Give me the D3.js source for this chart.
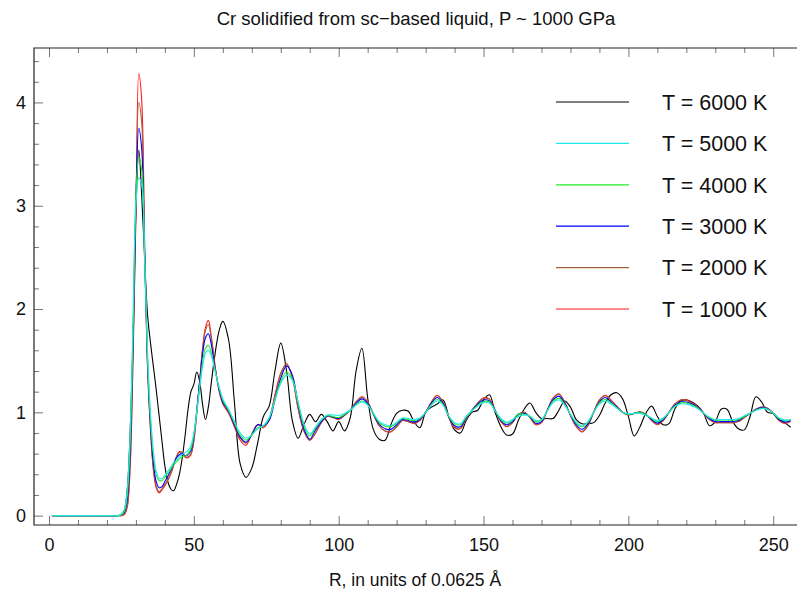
<!DOCTYPE html>
<html><head><meta charset="utf-8">
<script src="https://cdn.jsdelivr.net/npm/d3@7"></script>
<style>
body{margin:0;background:#fff}
svg{display:block}
text{font-family:"Liberation Sans",Arial,Helvetica,sans-serif;fill:#111}
</style>
</head><body><div id="chart"></div>
<script>
// R grid (units of 0.0625 Å)
const R = [1,10,20,
24,25,26,27,28,29,30,31,32,33,34,35,36,37,38,39,40,41,42,43,44,45,46,47,48,49,50,51,52,53,54,55,56,57,58,59,60,
62,64,66,68,70,72,74,76,78,80,82,84,86,88,90,92,94,96,98,100,102,104,106,108,110,112,114,116,118,120,
122,124,126,128,130,132,134,136,138,140,142,144,146,148,150,152,154,156,158,160,162,164,166,168,170,172,174,176,178,180,
182,184,186,188,190,192,194,196,198,200,202,204,206,208,210,212,214,216,218,220,222,224,226,228,230,232,234,236,238,240,
242,244,246,248,250,252,254,256];

const g6000 = [0,0,0,
0,0.01,0.05,0.25,0.8,1.65,2.95,3.54,3.1,2.5,1.95,1.68,1.45,1.22,0.97,0.72,0.48,0.33,0.26,0.24,0.30,0.40,0.56,0.78,1.03,1.2,1.27,1.39,1.30,1.08,0.93,1.05,1.28,1.50,1.69,1.82,1.88,
1.70,1.10,0.50,0.37,0.46,0.70,0.96,1.06,1.40,1.67,
1.40,0.92,0.75,0.88,0.98,0.91,0.98,0.91,0.82,0.91,
0.82,0.95,1.40,1.62,1.14,0.83,0.74,0.73,0.88,0.99,
1.02,1.01,0.91,0.85,1.00,1.05,1.08,1.12,0.96,0.83,
0.80,0.92,1.00,1.02,1.12,1.17,1.00,0.86,0.78,0.79,
0.92,1.03,1.09,1.00,0.94,0.94,0.94,1.02,1.11,1.05,
0.93,0.89,0.89,0.90,0.97,1.09,1.17,1.19,1.13,0.96,
0.77,0.86,0.99,1.06,0.96,0.88,0.89,1.03,1.11,1.12,
1.10,1.06,0.99,0.87,0.91,1.03,1.03,0.91,0.84,0.83,
0.96,1.15,1.10,1.00,0.99,0.94,0.90,0.855];

const g5000 = [0,0,0,
0,0.02,0.06,0.25,0.8,1.9,3.0,3.27,3.2,2.5,1.6,1.0,0.63,0.43,0.36,0.36,0.39,0.43,0.47,0.51,0.54,0.57,0.59,0.61,0.63,0.68,0.80,1.0,1.23,1.44,1.57,1.60,1.55,1.44,1.32,1.22,1.13,
1.03,0.91,0.80,0.75,0.78,0.84,0.87,0.95,1.12,1.28,
1.36,1.31,1.10,0.89,0.79,0.86,0.93,0.975,0.975,0.97,
0.99,1.02,1.07,1.10,1.07,0.99,0.91,0.88,0.87,0.905,
0.945,0.94,0.93,0.945,1.00,1.07,1.11,1.07,0.966,0.90,
0.89,0.96,1.015,1.06,1.095,1.09,1.015,0.94,0.905,0.93,
0.96,0.975,0.965,0.92,0.93,1.015,1.095,1.12,1.07,0.98,
0.905,0.87,0.91,1.00,1.08,1.11,1.08,1.04,1.00,0.985,
0.99,0.99,0.97,0.945,0.92,0.945,1.00,1.055,1.08,1.08,
1.06,1.035,0.99,0.95,0.93,0.93,0.93,0.93,0.94,0.966,
0.99,1.02,1.035,1.03,0.995,0.945,0.925,0.93];

const g4000 = [0,0,0,
0,0.01,0.04,0.2,0.7,1.8,3.1,3.47,3.35,2.5,1.55,0.95,0.6,0.4,0.34,0.34,0.37,0.41,0.45,0.49,0.52,0.55,0.57,0.58,0.60,0.65,0.78,1.0,1.25,1.48,1.62,1.65,1.58,1.45,1.32,1.21,1.12,
1.02,0.90,0.78,0.73,0.78,0.85,0.87,0.94,1.12,1.30,
1.39,1.32,1.09,0.87,0.77,0.85,0.925,0.97,0.96,0.95,
0.98,1.015,1.075,1.11,1.075,0.985,0.90,0.865,0.86,0.895,
0.94,0.93,0.92,0.94,1.00,1.075,1.124,1.075,0.96,0.89,
0.88,0.955,1.015,1.07,1.105,1.10,1.015,0.93,0.895,0.925,
0.985,0.98,0.96,0.91,0.925,1.015,1.105,1.135,1.075,0.98,
0.895,0.86,0.90,1.00,1.09,1.124,1.09,1.045,1.00,0.98,
0.99,1.00,0.98,0.94,0.91,0.94,1.00,1.06,1.09,1.09,
1.07,1.04,0.99,0.95,0.925,0.925,0.925,0.925,0.93,0.96,
0.99,1.02,1.04,1.03,0.99,0.94,0.92,0.93];

const g3000 = [0,0,0,
0,0.01,0.03,0.15,0.6,1.7,3.05,3.75,3.55,2.55,1.5,0.9,0.52,0.33,0.27,0.28,0.33,0.38,0.44,0.50,0.56,0.59,0.60,0.58,0.59,0.63,0.77,1.02,1.30,1.56,1.72,1.76,1.66,1.48,1.32,1.19,1.10,
1.01,0.88,0.76,0.71,0.78,0.88,0.87,0.92,1.12,1.33,
1.45,1.36,1.08,0.84,0.74,0.83,0.91,0.965,0.955,0.94,
0.975,1.02,1.087,1.13,1.087,0.98,0.887,0.84,0.835,0.88,
0.93,0.92,0.905,0.93,1.00,1.087,1.144,1.087,0.957,0.87,
0.86,0.95,1.02,1.08,1.12,1.11,1.02,0.92,0.88,0.91,
0.98,0.99,0.955,0.895,0.91,1.02,1.12,1.157,1.087,0.974,
0.88,0.835,0.887,1.00,1.10,1.144,1.10,1.05,1.00,0.98,
0.99,1.00,0.98,0.93,0.895,0.93,1.00,1.07,1.10,1.10,
1.08,1.045,0.99,0.94,0.91,0.91,0.91,0.91,0.92,0.957,
0.99,1.026,1.045,1.035,0.99,0.93,0.905,0.92];

const g2000 = [0,0,0,
0,0,0.02,0.1,0.5,1.55,2.95,4.0,3.8,2.6,1.45,0.85,0.47,0.29,0.23,0.26,0.30,0.35,0.41,0.49,0.57,0.61,0.61,0.57,0.57,0.60,0.73,1.0,1.30,1.60,1.79,1.85,1.72,1.51,1.32,1.18,1.09,
1.00,0.87,0.75,0.70,0.79,0.88,0.86,0.94,1.16,1.37,
1.47,1.34,1.04,0.82,0.73,0.80,0.90,0.96,0.95,0.94,
0.97,1.02,1.10,1.145,1.10,0.98,0.87,0.82,0.815,0.86,
0.92,0.91,0.895,0.925,1.00,1.10,1.16,1.10,0.955,0.855,
0.845,0.94,1.02,1.09,1.135,1.125,1.02,0.915,0.865,0.90,
0.98,1.00,0.955,0.885,0.905,1.02,1.135,1.175,1.10,0.97,
0.865,0.815,0.87,1.00,1.115,1.16,1.115,1.06,1.00,0.975,
0.99,1.005,0.98,0.925,0.885,0.92,1.00,1.08,1.12,1.115,
1.09,1.05,0.99,0.93,0.905,0.90,0.90,0.90,0.91,0.95,
0.99,1.03,1.05,1.04,0.99,0.925,0.895,0.915];

const g1000 = [0,0,0,
0,0,0.01,0.08,0.45,1.5,2.9,4.28,4.02,2.65,1.45,0.85,0.45,0.27,0.22,0.25,0.29,0.34,0.40,0.48,0.57,0.62,0.61,0.565,0.56,0.59,0.72,0.99,1.30,1.62,1.82,1.89,1.74,1.52,1.32,1.17,1.08,
0.99,0.86,0.73,0.68,0.79,0.88,0.85,0.93,1.17,1.38,
1.47,1.33,1.03,0.82,0.73,0.80,0.90,0.96,0.95,0.93,
0.97,1.02,1.10,1.15,1.10,0.98,0.87,0.82,0.81,0.86,
0.92,0.91,0.89,0.92,1.00,1.10,1.165,1.10,0.95,0.85,
0.84,0.94,1.02,1.09,1.14,1.13,1.02,0.91,0.86,0.90,
0.98,1.00,0.95,0.88,0.90,1.02,1.14,1.18,1.10,0.97,
0.86,0.81,0.87,1.00,1.12,1.165,1.12,1.06,1.00,0.975,
0.99,1.005,0.98,0.92,0.88,0.92,1.00,1.08,1.12,1.12,
1.09,1.05,0.99,0.93,0.90,0.90,0.90,0.90,0.91,0.95,
0.99,1.03,1.05,1.04,0.99,0.92,0.89,0.91];

const legendLabels = ["T = 6000 K","T = 5000 K","T = 4000 K","T = 3000 K","T = 2000 K","T = 1000 K"];
const seriesColors = ["#000000","#22e8e8","#22ee22","#0000ff","#a5603c","#ff1a1a"];
const seriesData = [g6000,g5000,g4000,g3000,g2000,g1000];
const xTickVals = [0,50,100,150,200,250];
const yTickVals = [0,1,2,3,4];
const titleText = "Cr solidified from sc\u2212based liquid, P ~ 1000 GPa";
const xLabelText = "R, in units of 0.0625 \u00C5";

const W = 797, H = 597;
const L = 34, T = 48, Rt = 797, B = 525;
const svg = d3.select("#chart").append("svg").attr("width", W).attr("height", H);

const x = d3.scaleLinear().domain([-5.18, 258.2]).range([L, Rt]);
const y = d3.scaleLinear().domain([-0.0909, 4.527]).range([B, T]);

svg.append("defs").append("clipPath").attr("id","clip")
  .append("rect").attr("x",L).attr("y",T).attr("width",Rt-L).attr("height",B-T);

const xMinor = d3.range(0, 260, 10).filter(v => v % 50 !== 0);
const yMinor = d3.range(0, 4.5, 0.2).filter(v => Math.abs(v - Math.round(v)) > 1e-6);

const tickCol = "#777";
function styleAxis(g){
  g.select(".domain").remove();
  g.selectAll(".tick line").attr("stroke", tickCol).attr("stroke-width", 1);
  g.selectAll("text").attr("font-size", 18).attr("fill", "#111")
   .attr("font-family", '"Liberation Sans", Arial, sans-serif');
}

// bottom axis
svg.append("g").attr("transform", `translate(0,${B})`)
  .call(d3.axisBottom(x).tickValues(xTickVals).tickSizeInner(-9).tickSizeOuter(0).tickPadding(13).tickFormat(d3.format("d")))
  .call(styleAxis);
svg.append("g").attr("transform", `translate(0,${B})`)
  .call(d3.axisBottom(x).tickValues(xMinor).tickSizeInner(-5).tickSizeOuter(0).tickFormat(""))
  .call(styleAxis);
// top axis
svg.append("g").attr("transform", `translate(0,${T})`)
  .call(d3.axisTop(x).tickValues(xTickVals).tickSizeInner(-9).tickSizeOuter(0).tickFormat(""))
  .call(styleAxis);
svg.append("g").attr("transform", `translate(0,${T})`)
  .call(d3.axisTop(x).tickValues(xMinor).tickSizeInner(-5).tickSizeOuter(0).tickFormat(""))
  .call(styleAxis);
// left axis
svg.append("g").attr("transform", `translate(${L},0)`)
  .call(d3.axisLeft(y).tickValues(yTickVals).tickSizeInner(-9).tickSizeOuter(0).tickPadding(8).tickFormat(d3.format("d")))
  .call(styleAxis);
svg.append("g").attr("transform", `translate(${L},0)`)
  .call(d3.axisLeft(y).tickValues(yMinor).tickSizeInner(-5).tickSizeOuter(0).tickFormat(""))
  .call(styleAxis);

// frame
svg.append("path").attr("d", `M${Rt},${T}H${L}V${B}H${Rt}`)
  .attr("fill","none").attr("stroke","#222").attr("stroke-width",1.2);

// series
const line = d3.line().x(d => x(d[0])).y(d => y(d[1])).curve(d3.curveCatmullRom.alpha(0.5));
const plot = svg.append("g").attr("clip-path","url(#clip)");
const drawOrder = [0,5,4,3,2,1];
drawOrder.forEach(i => {
  plot.append("path")
    .datum(R.map((r, k) => [r, seriesData[i][k]]))
    .attr("fill","none").attr("stroke", seriesColors[i]).attr("stroke-width", 1.1)
    .attr("stroke-linejoin","round").attr("d", line);
});

// legend
const legY = d3.scalePoint().domain(legendLabels).range([102, 309]);
const leg = svg.append("g");
legendLabels.forEach((lab, i) => {
  leg.append("line").attr("x1",556).attr("x2",629).attr("y1",legY(lab)).attr("y2",legY(lab))
    .attr("stroke", seriesColors[i]).attr("stroke-width", 1.2);
  leg.append("text").attr("x",662).attr("y",legY(lab)).attr("dy","0.36em")
    .attr("font-size",21.5).text(lab);
});

// titles
svg.append("text").attr("x",416).attr("y",25).attr("text-anchor","middle")
  .attr("font-size",18.5).text(titleText);
svg.append("text").attr("x",415).attr("y",586).attr("text-anchor","middle")
  .attr("font-size",17.5).text(xLabelText);
</script>
</body></html>
